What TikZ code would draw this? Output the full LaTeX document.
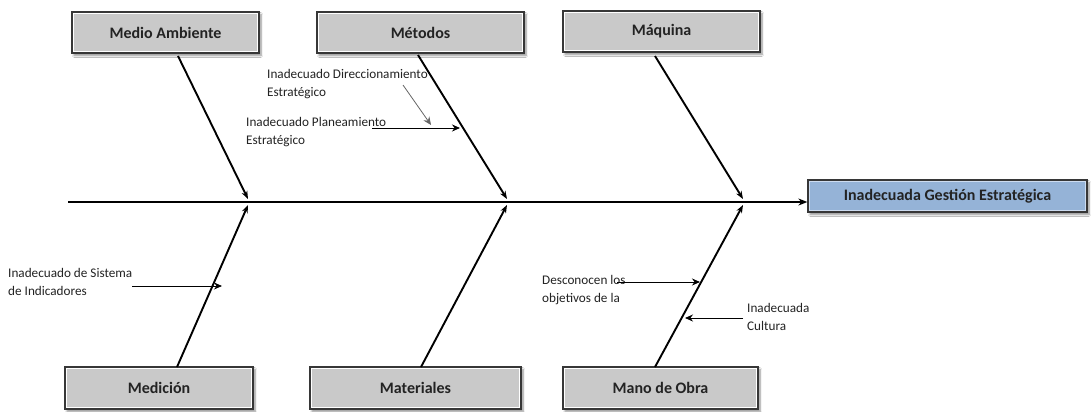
\documentclass[tikz,border=0pt]{standalone}
\usepackage{fontspec}
\setmainfont{Carlito}
\usetikzlibrary{arrows.meta,shadows.blur}
\definecolor{boxgray}{RGB}{201,201,201}
\definecolor{boxline}{RGB}{55,55,55}
\definecolor{effblue}{RGB}{149,179,215}
\definecolor{effinner}{RGB}{205,220,240}
\definecolor{txtgray}{RGB}{35,35,35}
\begin{document}
\begin{tikzpicture}[x=1pt,y=-1pt,
  catbox/.style={draw=boxline, line width=1.3pt, fill=boxgray, inner sep=0pt,
    font=\fontsize{16}{19}\selectfont\bfseries, text=txtgray,
    blur shadow={shadow xshift=2pt, shadow yshift=-2.5pt, shadow blur steps=6, shadow opacity=45},
    path picture={\draw[white, line width=1.6pt]
      ([shift={(1.5pt,-1.5pt)}]path picture bounding box.north west) rectangle
      ([shift={(-1.5pt,1.5pt)}]path picture bounding box.south east);}},
  effbox/.style={catbox, fill=effblue,
    path picture={\draw[effinner, line width=1.6pt]
      ([shift={(1.5pt,-1.5pt)}]path picture bounding box.north west) rectangle
      ([shift={(-1.5pt,1.5pt)}]path picture bounding box.south east);}},
  note/.style={font=\fontsize{13.2}{17.5}\selectfont, align=left, anchor=north west,
    inner sep=0pt, text=txtgray},
  spine/.style={line width=2.2pt, -{Stealth[length=9pt,width=7pt]}},
  bone/.style={line width=1.9pt, -{Stealth[length=8pt,width=6pt]}},
  sub/.style={line width=1pt, -{Stealth[length=8pt,width=7pt]}}
]
\useasboundingbox (0,0) rectangle (1092,412);
\fill[white] (0,0) rectangle (1092,412);

% category boxes
\node[catbox, minimum width=187pt, minimum height=41pt] (ma)  at (165.5,32.5) {Medio Ambiente};
\node[catbox, minimum width=207pt, minimum height=41pt] (met) at (420.5,32.5) {Métodos};
\node[catbox, minimum width=197pt, minimum height=41pt] (maq) at (661.5,31.5) {Máquina};
\node[catbox, minimum width=188pt, minimum height=42pt] (med) at (159,388) {Medición};
\node[catbox, minimum width=211pt, minimum height=42pt] (mat) at (415.5,388) {Materiales};
\node[catbox, minimum width=195pt, minimum height=42pt] (mo)  at (660.5,388) {Mano de Obra};

% effect
\node[effbox, minimum width=279pt, minimum height=32pt] (eff) at (947.5,196) {Inadecuada Gestión Estratégica};

% spine
\coordinate (tail) at (68,202);
\draw[spine] (tail) -- (eff.west |- tail);

% bone end points
\coordinate (ma-s)  at (178,56);
\coordinate (met-s) at (418,55);
\coordinate (maq-s) at (655,56);
\coordinate (med-n) at (177,367);
\coordinate (mat-n) at (421,367);
\coordinate (mo-n)  at (655,367);
\coordinate (j1t) at (248,199);
\coordinate (j2t) at (507,199);
\coordinate (j3t) at (743,199);
\coordinate (j1b) at (248,205);
\coordinate (j2b) at (507,205);
\coordinate (j3b) at (743,205);

\draw[bone] (ma-s)  -- (j1t);
\draw[bone] (met-s) -- (j2t);
\draw[bone] (maq-s) -- (j3t);
\draw[bone] (med-n) -- (j1b);
\draw[bone] (mat-n) -- (j2b);
\draw[bone] (mo-n)  -- (j3b);

% sub-causes
\node[note] (dir)  at (267,69.5)  {Inadecuado Direccionamiento\\Estratégico};
\node[note] (plan) at (246,117.5) {Inadecuado Planeamiento\\Estratégico};
\node[note] (sis)  at (8,268.5)   {Inadecuado de Sistema\\de Indicadores};
\node[note] (des)  at (542,275.5) {Desconocen los\\objetivos de la};
\node[note] (cul)  at (747,303.5) {Inadecuada\\Cultura};

\coordinate (dir-a)  at (403,85);
\coordinate (dir-b)  at (431,125);
\coordinate (plan-a) at (372,128);
\coordinate (plan-b) at (460,128);
\coordinate (sis-a)  at (132,286);
\coordinate (sis-b)  at (222,286);
\coordinate (des-a)  at (617,282);
\coordinate (des-b)  at (700,282);
\coordinate (cul-a)  at (743,318);
\coordinate (cul-b)  at (685,318);

\draw[sub, draw=black!60, line width=0.8pt] (dir-a) -- (dir-b);
\draw[sub] (plan-a) -- (plan-b);
\draw[sub] (sis-a) -- (sis-b);
\draw[sub] (des-a) -- (des-b);
\draw[sub] (cul-a) -- (cul-b);
\end{tikzpicture}
\end{document}
